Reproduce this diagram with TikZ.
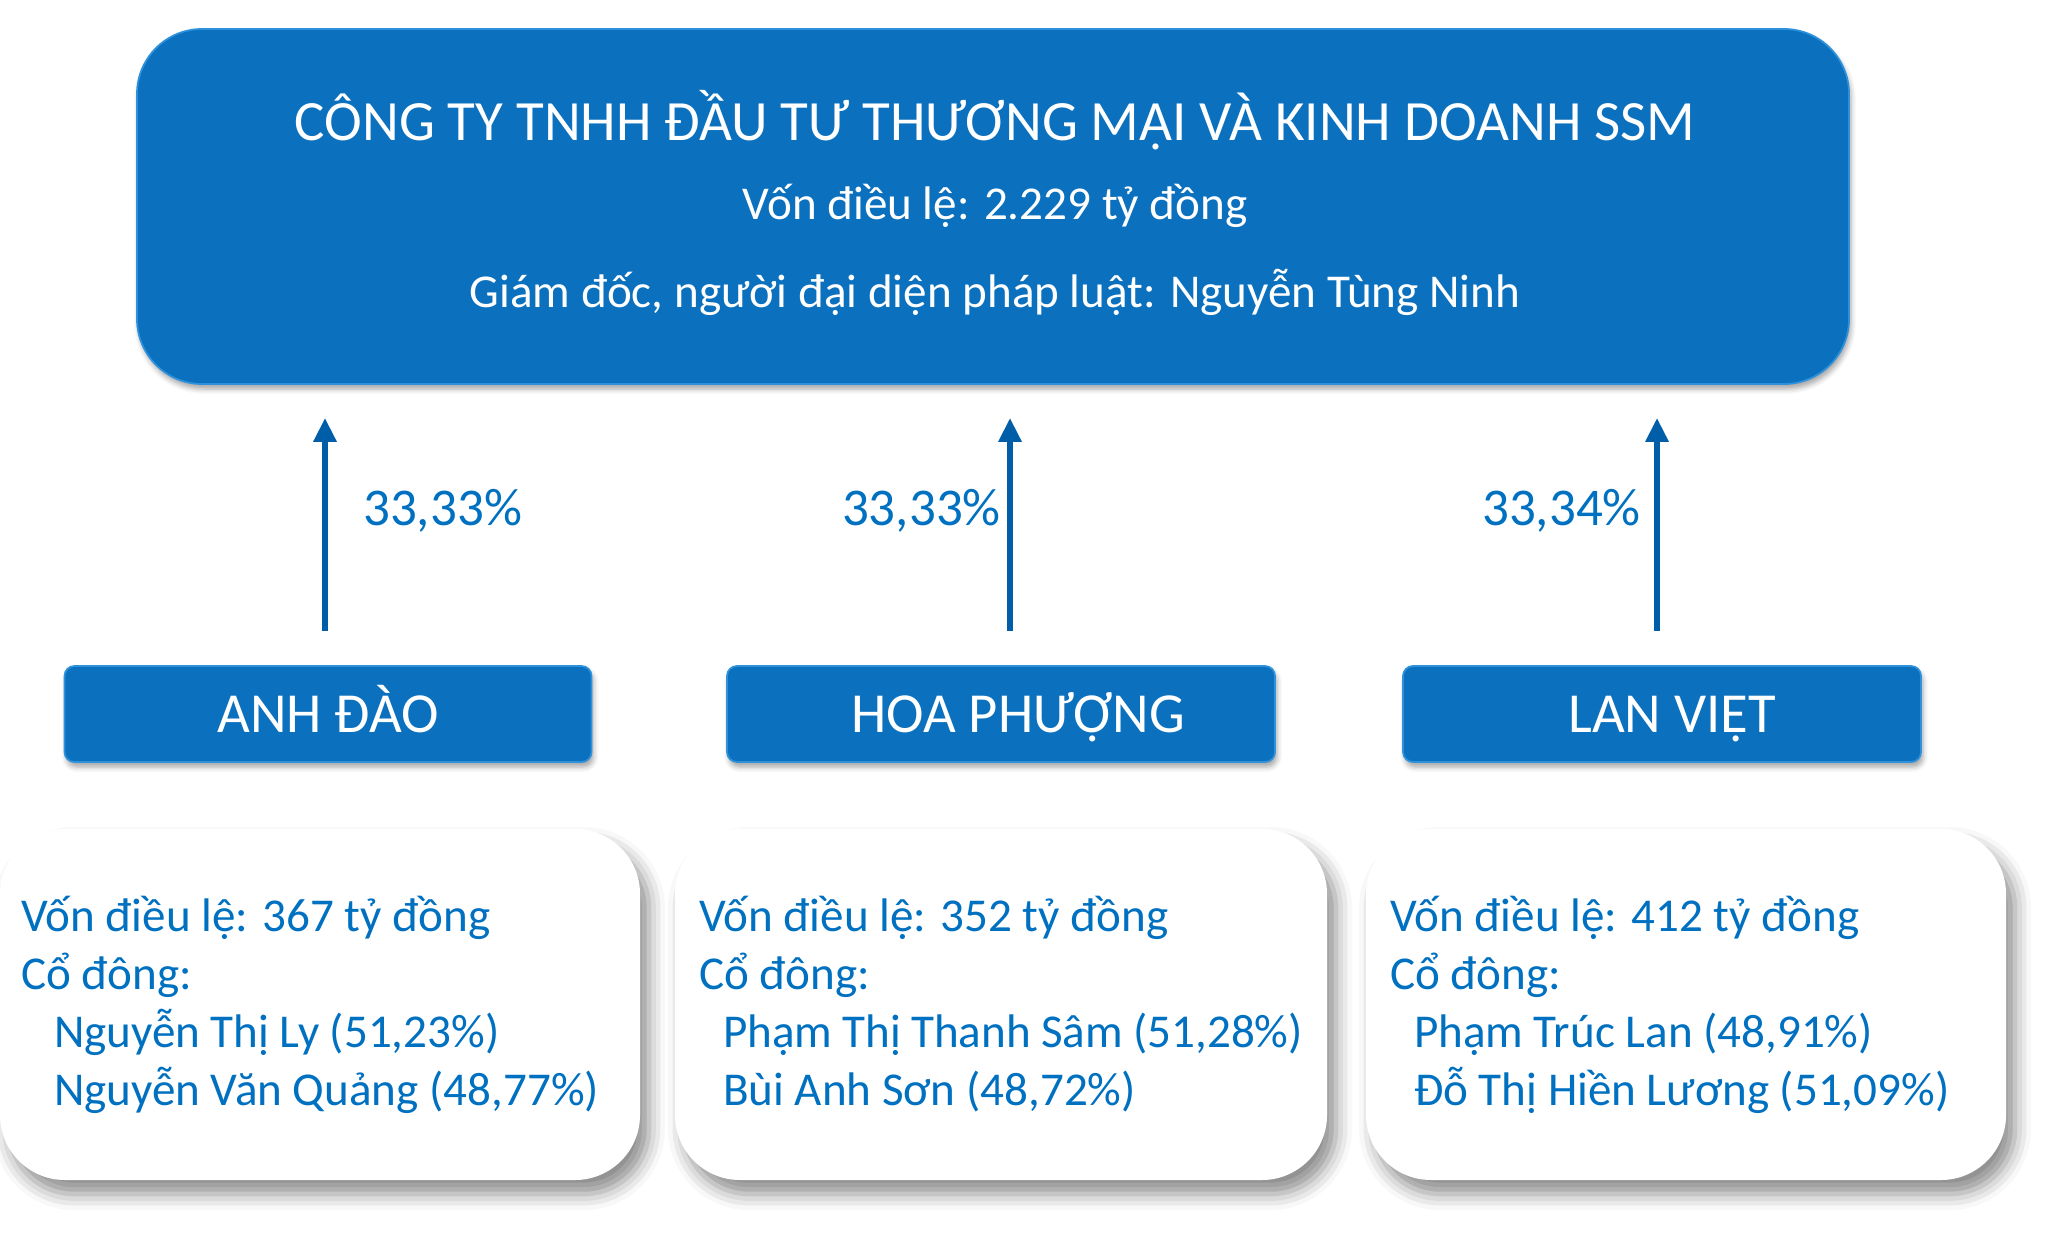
\documentclass[tikz,border=0pt]{standalone}
\usepackage{fontspec}
\setmainfont{Carlito}
\usepackage{xcolor}
\usetikzlibrary{arrows.meta, positioning, shadows, shadows.blur}

\definecolor{ssmblue}{RGB}{11,112,189}
\definecolor{ssmedge}{RGB}{45,145,220}
\definecolor{textblue}{RGB}{0,112,192}
\definecolor{arrowblue}{RGB}{0,94,168}

\begin{document}
\begin{tikzpicture}[
		% Define styles
		mainbox/.style={
			rectangle,
			fill=ssmblue,
			draw=ssmedge,
			line width=0.5pt,
			rounded corners=0.65cm,
			minimum width=17.12cm,
			minimum height=3.55cm,
			blur shadow={shadow xshift=0.02cm, shadow yshift=-0.05cm, shadow blur radius=0.05cm, shadow opacity=35}
		},
		headtext/.style={
			text=white,
			font=\fontsize{16.2}{19}\selectfont
		},
		subtext/.style={
			text=white,
			font=\fontsize{13.4}{16}\selectfont
		},
		company/.style={
			rectangle,
			fill=ssmblue,
			draw=ssmedge,
			line width=0.5pt,
			rounded corners=0.1cm,
			minimum height=0.96cm,
			text height=10.4pt,
			text depth=0pt,
			text=white,
			font=\fontsize{16.1}{19}\selectfont,
			blur shadow={shadow xshift=0.02cm, shadow yshift=-0.05cm, shadow blur radius=0.05cm, shadow opacity=35}
		},
		info/.style={
			rectangle,
			fill=white,
			rounded corners=0.65cm,
			minimum height=3.51cm,
			inner xsep=0.21cm,
			align=flush left,
			text=textblue,
			font=\fontsize{13.4}{16.5}\selectfont,
			blur shadow={shadow xshift=0.09cm, shadow yshift=-0.14cm, shadow blur radius=0.16cm, shadow opacity=45}
		},
		pct/.style={
			inner sep=0pt,
			text=textblue,
			font=\fontsize{15.1}{18}\selectfont
		},
		% Define arrow style
		link/.style={-{Triangle[length=0.24cm, width=0.22cm]}, line width=1.8pt, draw=arrowblue,
			shorten <=0.34cm, shorten >=0.33cm}
		]
		\useasboundingbox (0,0) rectangle (20.45,-12.33);
		
		% ----- Parent Company -----
		\node[mainbox] (ssm) at (9.93,-2.065) {};
		\node[headtext] (ssm-name) at (9.95,-1.20) {CÔNG TY TNHH ĐẦU TƯ THƯƠNG MẠI VÀ KINH DOANH SSM};
		\node[subtext] (ssm-capital) at (9.95,-2.06) {Vốn điều lệ: 2.229 tỷ đồng};
		\node[subtext] (ssm-director) at (9.95,-2.92) {Giám đốc, người đại diện pháp luật: Nguyễn Tùng Ninh};
		
		% ----- Member Companies -----
		\node[company, minimum width=5.27cm] (anhdao) at (3.28,-7.14) {ANH ĐÀO};
		\node[company, minimum width=5.48cm] (hoaphuong) at (10.01,-7.14) {\hspace*{0.34cm}HOA PHƯỢNG};
		\node[company, minimum width=5.18cm] (lanviet) at (16.62,-7.14) {\hspace*{0.2cm}LAN VIỆT};
		
		% ----- Shareholder Details -----
		\node[info, text width=5.98cm] (anhdao-info) at (3.20,-10.045) {
			Vốn điều lệ: 367 tỷ đồng\\
			Cổ đông:\\
			\hspace*{0.33cm}Nguyễn Thị Ly (51,23\%)\\
			\hspace*{0.33cm}Nguyễn Văn Quảng (48,77\%)
		};
		\node[info, text width=6.04cm, inner xsep=0.24cm] (hoaphuong-info) at (10.01,-10.045) {
			Vốn điều lệ: 352 tỷ đồng\\
			Cổ đông:\\
			\hspace*{0.24cm}Phạm Thị Thanh Sâm (51,28\%)\\
			\hspace*{0.24cm}Bùi Anh Sơn (48,72\%)
		};
		\node[info, text width=5.92cm, inner xsep=0.24cm] (lanviet-info) at (16.86,-10.045) {
			Vốn điều lệ: 412 tỷ đồng\\
			Cổ đông:\\
			\hspace*{0.24cm}Phạm Trúc Lan (48,91\%)\\
			\hspace*{0.24cm}Đỗ Thị Hiền Lương (51,09\%)
		};
		
		% ----- Arrows to connect the nodes -----
		\draw[link] ([xshift=-0.03cm]anhdao.north) -- ([xshift=-0.03cm]anhdao.north |- ssm.south)
			node[pct, pos=0.55, right=0.35cm] (pct-anhdao) {33,33\%};
		\draw[link] ([xshift=0.09cm]hoaphuong.north) -- ([xshift=0.09cm]hoaphuong.north |- ssm.south)
			node[pct, pos=0.55, left=0.06cm] (pct-hoaphuong) {33,33\%};
		\draw[link] ([xshift=-0.05cm]lanviet.north) -- ([xshift=-0.05cm]lanviet.north |- ssm.south)
			node[pct, pos=0.55, left=0.13cm] (pct-lanviet) {33,34\%};
		
	\end{tikzpicture}
\end{document}
